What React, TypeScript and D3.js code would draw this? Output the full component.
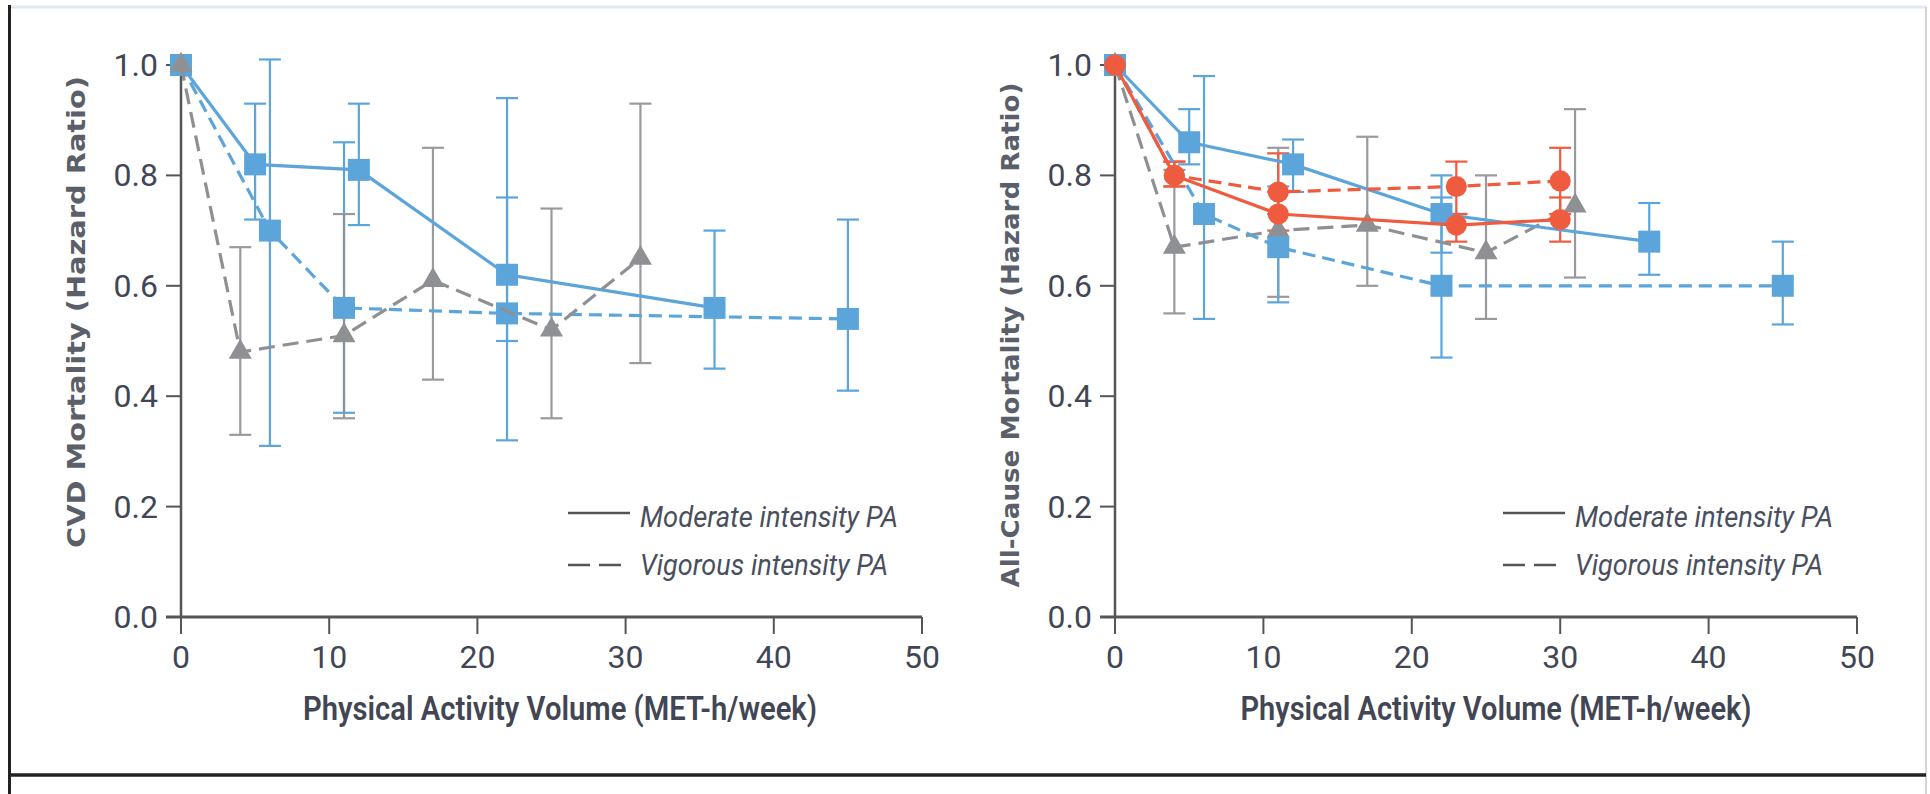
import React from 'react';
import * as d3 from 'd3';

const W = 1930;
const H = 794;

const BLUE = '#5ca5db';
const RED = '#ef5b3f';
const GRAY = '#8f9094';
const INK = '#424654';

const xTicks = [0, 10, 20, 30, 40, 50];
const yTicks = [0, 0.2, 0.4, 0.6, 0.8, 1.0];

// CVD mortality panel
const cvdModX = [0, 5, 12, 22, 36];
const cvdModHR = [1.0, 0.82, 0.81, 0.62, 0.56];
const cvdModLo = [null, 0.72, 0.71, 0.5, 0.45];
const cvdModHi = [null, 0.93, 0.93, 0.76, 0.7];

const cvdVigX = [0, 6, 11, 22, 45];
const cvdVigHR = [1.0, 0.7, 0.56, 0.55, 0.54];
const cvdVigLo = [null, 0.31, 0.37, 0.32, 0.41];
const cvdVigHi = [null, 1.01, 0.86, 0.94, 0.72];

const cvdGrayX = [0, 4, 11, 17, 25, 31];
const cvdGrayHR = [1.0, 0.48, 0.51, 0.61, 0.52, 0.65];
const cvdGrayLo = [null, 0.33, 0.36, 0.43, 0.36, 0.46];
const cvdGrayHi = [null, 0.67, 0.73, 0.85, 0.74, 0.93];

// all-cause mortality panel
const acmBlueModX = [0, 5, 12, 22, 36];
const acmBlueModHR = [1.0, 0.86, 0.82, 0.73, 0.68];
const acmBlueModLo = [null, 0.82, 0.77, 0.66, 0.62];
const acmBlueModHi = [null, 0.92, 0.865, 0.8, 0.75];

const acmBlueVigX = [0, 6, 11, 22, 45];
const acmBlueVigHR = [1.0, 0.73, 0.67, 0.6, 0.6];
const acmBlueVigLo = [null, 0.54, 0.57, 0.47, 0.53];
const acmBlueVigHi = [null, 0.98, 0.78, 0.76, 0.68];

const acmRedModX = [0, 4, 11, 23, 30];
const acmRedModHR = [1.0, 0.8, 0.73, 0.71, 0.72];
const acmRedModLo = [null, 0.78, 0.7, 0.68, 0.68];
const acmRedModHi = [null, 0.825, 0.77, 0.73, 0.76];

const acmRedVigX = [0, 4, 11, 23, 30];
const acmRedVigHR = [1.0, 0.8, 0.77, 0.78, 0.79];
const acmRedVigLo = [null, 0.78, 0.73, 0.73, 0.73];
const acmRedVigHi = [null, 0.825, 0.84, 0.825, 0.85];

const acmGrayX = [0, 4, 11, 17, 25, 31];
const acmGrayHR = [1.0, 0.67, 0.7, 0.71, 0.66, 0.745];
const acmGrayLo = [null, 0.55, 0.58, 0.6, 0.54, 0.615];
const acmGrayHi = [null, 0.81, 0.85, 0.87, 0.8, 0.92];

type Series = {
  x: number[];
  hr: number[];
  lo: (number | null)[];
  hi: (number | null)[];
  color: string;
  dashed: boolean;
  shape: string;
};

const mk = (x, hr, lo, hi, color, dashed, shape): Series => ({ x, hr, lo, hi, color, dashed, shape });

// drawing order = list order
const cvdSeries = [
  mk(cvdModX, cvdModHR, cvdModLo, cvdModHi, BLUE, false, 'square'),
  mk(cvdVigX, cvdVigHR, cvdVigLo, cvdVigHi, BLUE, true, 'square'),
  mk(cvdGrayX, cvdGrayHR, cvdGrayLo, cvdGrayHi, GRAY, true, 'triangle'),
];

const acmSeries = [
  mk(acmGrayX, acmGrayHR, acmGrayLo, acmGrayHi, GRAY, true, 'triangle'),
  mk(acmBlueModX, acmBlueModHR, acmBlueModLo, acmBlueModHi, BLUE, false, 'square'),
  mk(acmBlueVigX, acmBlueVigHR, acmBlueVigLo, acmBlueVigHi, BLUE, true, 'square'),
  mk(acmRedModX, acmRedModHR, acmRedModLo, acmRedModHi, RED, false, 'circle'),
  mk(acmRedVigX, acmRedVigHR, acmRedVigLo, acmRedVigHi, RED, true, 'circle'),
];

const symbolPath = {
  square: d3.symbol().type(d3.symbolSquare).size(484)(),
  circle: d3.symbol().type(d3.symbolCircle).size(350)(),
  triangle: d3.symbol().type(d3.symbolTriangle).size(230)(),
};

function Panel({ left, right, series, yTitle, yTitleX, yTitleY, yTitleLen, legendX, xTitleX, xTitleLen }) {
  const x = d3.scaleLinear().domain([0, 50]).range([left, right]);
  const y = d3.scaleLinear().domain([0, 1]).range([617, 65]);
  const line = d3
    .line<[number, number]>()
    .x((d) => x(d[0]))
    .y((d) => y(d[1]));

  return (
    <g>
      {/* error bars */}
      {series.map((s, si) =>
        s.x.map((xv, i) =>
          s.lo[i] == null ? null : (
            <g key={`e${si}-${i}`} stroke={s.color} strokeWidth={2.2} opacity={s.color === GRAY ? 0.9 : 1}>
              <line x1={x(xv)} x2={x(xv)} y1={y(s.lo[i])} y2={y(s.hi[i])} />
              <line x1={x(xv) - 11} x2={x(xv) + 11} y1={y(s.lo[i])} y2={y(s.lo[i])} />
              <line x1={x(xv) - 11} x2={x(xv) + 11} y1={y(s.hi[i])} y2={y(s.hi[i])} />
            </g>
          )
        )
      )}

      {/* axes */}
      <g stroke="#555" fill="none">
        <line x1={x(0)} x2={x(0)} y1={y(1)} y2={y(0)} strokeWidth={2.5} />
        <line x1={x(0) - 15} x2={x(50)} y1={y(0)} y2={y(0)} strokeWidth={3} />
        {yTicks.map((t) => (
          <line key={`yt${t}`} x1={x(0) - 15} x2={x(0)} y1={y(t)} y2={y(t)} strokeWidth={2} />
        ))}
        {xTicks.map((t) => (
          <line key={`xt${t}`} x1={x(t)} x2={x(t)} y1={y(0)} y2={y(0) + 17} strokeWidth={2} />
        ))}
      </g>
      <g fill={INK} fontFamily="Roboto" fontSize={32}>
        {yTicks.map((t) => (
          <text key={`yl${t}`} x={x(0) - 23} y={y(t)} textAnchor="end" dominantBaseline="central">
            {t.toFixed(1)}
          </text>
        ))}
        {xTicks.map((t) => (
          <text key={`xl${t}`} x={x(t)} y={668} textAnchor="middle">
            {t}
          </text>
        ))}
      </g>

      {/* lines and markers */}
      {series.map((s, si) => (
        <g key={`s${si}`}>
          <path
            d={line(s.x.map((v, i) => [v, s.hr[i]]))}
            fill="none"
            stroke={s.color}
            strokeWidth={3.2}
            strokeDasharray={s.dashed ? (s.color === GRAY ? '16 8' : '13 7') : undefined}
          />
          {s.x.map((v, i) => (
            <path key={i} d={symbolPath[s.shape]} transform={`translate(${x(v)},${y(s.hr[i])})`} fill={s.color} />
          ))}
        </g>
      ))}

      {/* titles */}
      <text
        transform={`translate(${yTitleX},${yTitleY}) rotate(-90)`}
        textAnchor="middle"
        dominantBaseline="central"
        fontFamily="DejaVu Sans"
        fontWeight="bold"
        fontSize={25}
        fill="#5b5f69"
        textLength={yTitleLen}
        lengthAdjust="spacingAndGlyphs"
      >
        {yTitle}
      </text>
      <text
        x={xTitleX}
        y={720}
        textAnchor="middle"
        fontFamily="Roboto"
        fontWeight={600}
        fontSize={33}
        fill={INK}
        textLength={xTitleLen}
        lengthAdjust="spacingAndGlyphs"
      >
        Physical Activity Volume (MET-h/week)
      </text>

      {/* legend */}
      <g stroke="#555" strokeWidth={2.5}>
        <line x1={legendX} x2={legendX + 62} y1={513} y2={513} />
        <line x1={legendX} x2={legendX + 53} y1={565} y2={565} strokeDasharray="22 9" />
      </g>
      <g fill="#4a4f5e" fontFamily="Roboto" fontStyle="italic" fontSize={30}>
        <text x={legendX + 72} y={527} textLength={258} lengthAdjust="spacingAndGlyphs">
          Moderate intensity PA
        </text>
        <text x={legendX + 72} y={575} textLength={248} lengthAdjust="spacingAndGlyphs">
          Vigorous intensity PA
        </text>
      </g>
    </g>
  );
}

export default function App() {
  return (
    <svg
      width={W}
      height={H}
      style={{ position: 'fixed', left: 0, top: 0, background: '#fff' }}
    >
      <rect width={W} height={H} fill="#fff" />
      {/* frame */}
      <line x1={11} x2={1926} y1={7} y2={7} stroke="#dfe9f6" strokeWidth={3} />
      <line x1={1926} x2={1926} y1={7} y2={H} stroke="#d4d4d4" strokeWidth={2} />
      <line x1={9.5} x2={9.5} y1={5} y2={H} stroke="#222" strokeWidth={3} />
      <line x1={11} x2={1926} y1={775} y2={775} stroke="#222" strokeWidth={3.5} />

      <Panel
        left={181}
        right={922}
        series={cvdSeries}
        yTitle="CVD Mortality (Hazard Ratio)"
        yTitleX={76}
        yTitleY={312}
        yTitleLen={472}
        legendX={568}
        xTitleX={560}
        xTitleLen={514}
      />
      <Panel
        left={1115}
        right={1857}
        series={acmSeries}
        yTitle="All-Cause Mortality (Hazard Ratio)"
        yTitleX={1010}
        yTitleY={335}
        yTitleLen={505}
        legendX={1503}
        xTitleX={1496}
        xTitleLen={511}
      />
    </svg>
  );
}
